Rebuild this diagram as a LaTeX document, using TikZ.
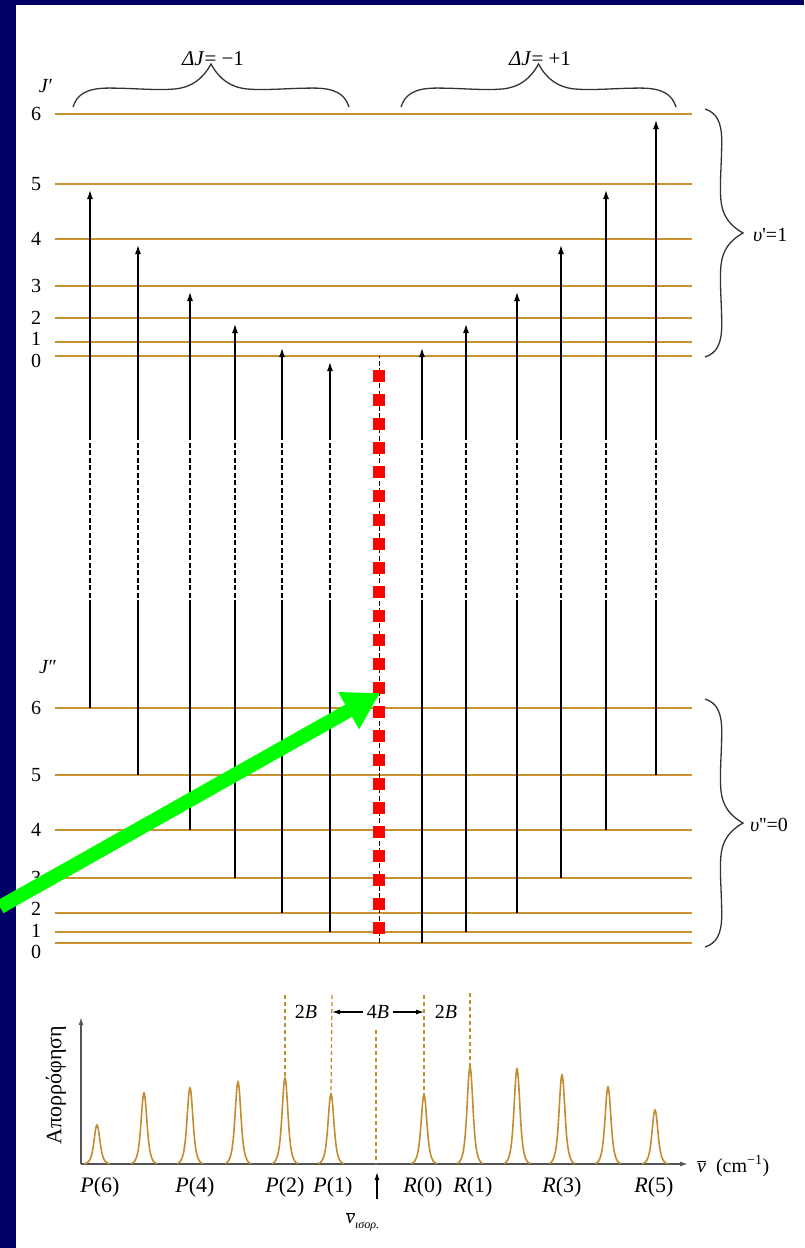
\documentclass[tikz,border=0pt]{standalone}
\usepackage{fontspec}
\setmainfont{Liberation Serif}
\usetikzlibrary{arrows.meta,calc}
\definecolor{navy}{RGB}{0,0,102}
\definecolor{lev}{RGB}{200,145,50}
\definecolor{pk}{RGB}{196,140,48}
\definecolor{grn}{RGB}{0,255,0}
\definecolor{axgray}{RGB}{85,85,85}
\tikzset{
  pics/curly/.style={code={
    \draw[line width=1.3pt, black!80]
      (0,0) .. controls (0.015,-0.30) and (0.05,-0.44) .. (0.13,-0.44)
      .. controls (0.22,-0.44) and (0.30,-0.38) .. (0.37,-0.42)
      .. controls (0.43,-0.46) and (0.47,-0.65) .. (0.5,-1)
      .. controls (0.53,-0.65) and (0.57,-0.46) .. (0.63,-0.42)
      .. controls (0.70,-0.38) and (0.78,-0.44) .. (0.87,-0.44)
      .. controls (0.95,-0.44) and (0.985,-0.30) .. (1,0);
  }}
}
\begin{document}
\begin{tikzpicture}[x=1pt,y=-1pt,
  level/.style={lev, line width=2pt},
  trans/.style={black, line width=1.3pt},
  tdash/.style={dash pattern=on 5pt off 2.5pt},
  tip/.style={-{Latex[length=9pt,width=6pt]}},
  lbl/.style={font=\fontsize{20}{24}\selectfont, inner sep=0pt},
  plbl/.style={font=\fontsize{22}{26}\selectfont, inner sep=0pt},
  peak/.style={pk, line width=1.6pt},
  pdash/.style={pk, line width=1.3pt, dash pattern=on 4pt off 3pt},
  axis/.style={axgray, line width=1.5pt, -{Latex[length=8pt,width=5pt]}},
  sq/.style={fill=red, minimum size=12pt, inner sep=0pt, draw=none}
]
\useasboundingbox (0,0) rectangle (804,1248);
\fill[navy] (0,0) rectangle (804,1248);
\fill[white] (16,5) rectangle (804,1248);

% upper levels (label y may differ slightly from line y)
\foreach \j/\y/\ty in {0/356/361,1/342/339,2/318/318,3/286/286,4/239/239,5/184/184,6/114/114}{
  \coordinate (u\j) at (55,\y);
  \coordinate (ue\j) at (692,\y);
  \draw[level] (u\j) -- (ue\j);
  \node[lbl] (nu\j) at (36,\ty) {\j};
}
% lower levels
\foreach \j/\y/\ty in {0/943/952,1/932/931,2/913/909,3/878/878,4/830/830,5/775/775,6/708/708}{
  \coordinate (l\j) at (55,\y);
  \coordinate (le\j) at (692,\y);
  \draw[level] (l\j) -- (le\j);
  \node[lbl] (nl\j) at (36,\ty) {\j};
}
\node[lbl] (Jup) at (46,86) {\textit{J}′};
\node[lbl] (Jlo) at (48,667) {\textit{J}″};

% dashed region limits
\coordinate (dlo) at (0,605);
\coordinate (dhi) at (0,437);

% transitions
\foreach \n/\px/\lo/\hi in {P6/90/6/5, P5/138/5/4, P4/190/4/3, P3/235/3/2, P2/282/2/1, P1/330/1/0,
                            R0/422/0/1, R1/466/1/2, R2/517/2/3, R3/561/3/4, R4/606/4/5, R5/656/5/6}{
  \coordinate (c\n) at (\px,0);
  \draw[trans] (c\n |- l\lo) -- (c\n |- dlo);
  \draw[trans,tdash] (c\n |- dlo) -- (c\n |- dhi);
  \draw[trans,tip] (c\n |- dhi) -- ($(c\n |- u\hi)+(0,6)$);
}

% centre line with red squares
\coordinate (cC) at (379,0);
\draw[black, line width=1pt, dash pattern=on 5pt off 2.5pt] (cC |- l0) -- (cC |- u0);
\foreach \k in {0,...,23}{
  \node[sq] (sq\k) at (379,{376+24*\k}) {};
}

% top braces
\pic[xscale=276, yscale=43] at (73,107) {curly};
\pic[xscale=275, yscale=43] at (401,107) {curly};
\node[font=\fontsize{21}{25}\selectfont, inner sep=0pt, anchor=base] (dJm) at (213,65) {\textit{ΔJ}= −1};
\node[font=\fontsize{21}{25}\selectfont, inner sep=0pt, anchor=base] (dJp) at (540,65) {\textit{ΔJ}= +1};

% right braces
\pic[rotate=-90, xscale=248, yscale=38] at (705,109) {curly};
\pic[rotate=-90, xscale=248, yscale=38] at (705,699) {curly};
\node[lbl, anchor=west] (v1) at (753,235) {\textit{υ}\textquotesingle=1};
\node[lbl, anchor=west] (v0) at (750,825) {\textit{υ}\textquotesingle\textquotesingle=0};

% spectrum axes
\coordinate (O) at (81,1164);
\coordinate (Ytop) at (81,1017);
\coordinate (Xend) at (688,1164);
\draw[axis] (O) -- (Ytop);
\draw[axis] (O) -- (Xend);
\node[font=\fontsize{22}{26}\selectfont, inner sep=0pt, rotate=90] (ylab) at (56,1085) {Απορρόφηση};
\node[lbl, anchor=west] (xlab) at (697,1166) {$\overline{\hbox{\textit{ν}}}$\ \ (cm\textsuperscript{−1})};

% peaks
\foreach \n/\px/\h in {P6/97/39, P5/144/71, P4/190/76, P3/238/82, P2/285/86, P1/331/70,
                       R0/424/69, R1/470/97, R2/517/95, R3/562/89, R4/608/77, R5/655/54}{
  \draw[peak] plot[domain=-13:13, samples=61, smooth]
     ({\px+(\x)},{1164-\h*(0.62*exp(-1*((\x/3.4)*(\x/3.4)))+0.38*exp(-1*((\x/6.3)*(\x/6.3))))});
  \coordinate (pk\n) at (\px,{1164-\h});
}

% spectrum dashed guides
\coordinate (dP2) at (285,995);
\coordinate (dP1) at (332,995);
\coordinate (dC) at (376,1030);
\coordinate (dCb) at (376,1164);
\coordinate (dR0) at (424,995);
\coordinate (dR1) at (470,993);
\draw[pdash] (dP2) -- (pkP2);
\draw[pdash] (dP1) -- (pkP1);
\draw[pdash] (dC) -- (dCb);
\draw[pdash] (dR0) -- (pkR0);
\draw[pdash] (dR1) -- (pkR1);

\node[lbl] (twoBl) at (306,1012) {2\textit{B}};
\node[lbl] (twoBr) at (446,1012) {2\textit{B}};
\node[lbl] (fourB) at (378,1012) {4\textit{B}};
\draw[black, line width=1.1pt, -{Latex[length=8pt,width=5pt]}] ([xshift=-4pt]fourB.west) -- (dP1 |- fourB);
\draw[black, line width=1.1pt, -{Latex[length=8pt,width=5pt]}] ([xshift=4pt]fourB.east) -- (dR0 |- fourB);

% peak labels
\node[plbl] (lP6) at (100,1187) {\textit{P}(6)};
\node[plbl] (lP4) at (195,1187) {\textit{P}(4)};
\node[plbl] (lP2) at (285,1187) {\textit{P}(2)};
\node[plbl] (lP1) at (333,1187) {\textit{P}(1)};
\node[plbl] (lR0) at (423,1187) {\textit{R}(0)};
\node[plbl] (lR1) at (473,1187) {\textit{R}(1)};
\node[plbl] (lR3) at (562,1187) {\textit{R}(3)};
\node[plbl] (lR5) at (654,1187) {\textit{R}(5)};

\coordinate (ua) at (377,1199);
\coordinate (ub) at (377,1172);
\draw[black, line width=1.2pt, -{Latex[length=8pt,width=5pt]}] (ua) -- (ub);
\node[lbl, anchor=west] (nuiso) at (346,1222) {$\overline{\hbox{\textit{ν}}}$\raisebox{-5pt}{\fontsize{12}{14}\selectfont\textit{ισορ.}}};

% green pointer
\coordinate (gs) at (0,907);
\coordinate (gt) at (380,693);
\draw[grn, line width=14pt, -{Triangle[length=36pt,width=40pt]}] (gs) -- (gt);
\end{tikzpicture}
\end{document}
